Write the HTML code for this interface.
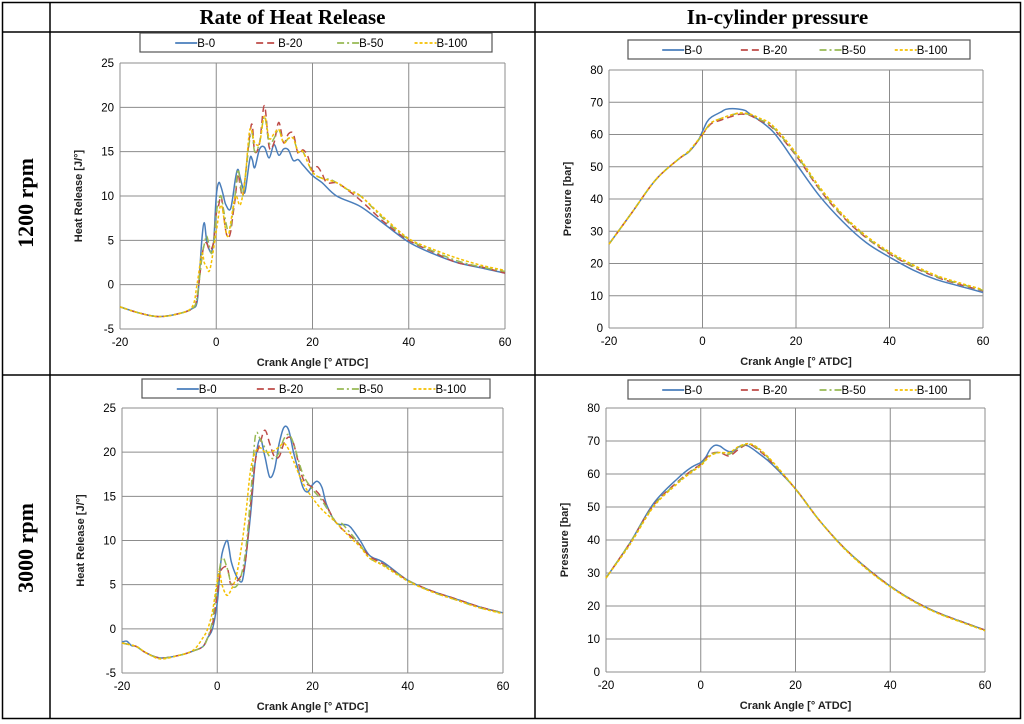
<!DOCTYPE html>
<html><head><meta charset="utf-8">
<style>
body{margin:0;background:#fff;width:1024px;height:724px;overflow:hidden;position:relative;font-family:"Liberation Sans",sans-serif}
.hd{position:absolute;font-family:"Liberation Serif",serif;font-weight:bold;font-size:21px;text-align:center}
.rl{position:absolute;font-family:"Liberation Serif",serif;font-weight:bold;font-size:22px;transform:rotate(-90deg);white-space:nowrap;text-align:center;width:200px}
svg{position:absolute;left:0;top:0}
</style></head><body>
<svg id="tbl" width="1024" height="724">
<rect x="2.5" y="2.5" width="1018" height="716" fill="none" stroke="#000" stroke-width="1.5"/>
<line x1="50" y1="2" x2="50" y2="719" stroke="#000" stroke-width="1.5"/>
<line x1="535" y1="2" x2="535" y2="719" stroke="#000" stroke-width="1.5"/>
<line x1="2" y1="32" x2="1020" y2="32" stroke="#000" stroke-width="1.5"/>
<line x1="2" y1="375" x2="1020" y2="375" stroke="#000" stroke-width="1.5"/>
</svg>
<div class="hd" style="left:50px;top:5px;width:485px">Rate of Heat Release</div>
<div class="hd" style="left:535px;top:5px;width:485px">In-cylinder pressure</div>
<div class="rl" style="left:-74px;top:190px">1200 rpm</div>
<div class="rl" style="left:-74px;top:535px">3000 rpm</div>
<svg id="charts" width="1024" height="724"></svg>
<script>
// ---- 1200 rpm heat release ----
const h12_b0_x=[-20,-16,-12,-8,-5,-4,-3.5,-3,-2.5,-2,-1.5,-1,-0.5,0,0.5,1,1.5,2,3,4,4.5,5,5.5,6,7,7.5,8,9,10,11,12,13,14,15,16,17,18,20,22,25,30,35,40,45,50,55,60];
const h12_b0_y=[-2.5,-3.2,-3.6,-3.3,-2.7,-2,1,5,7,5,4,3.7,5,10,11.5,11,10,9,8.6,12,13,12,11,10.5,14.2,14.1,13.2,15.3,15.5,14.3,15.8,14.6,15.3,15.2,14,14.1,13.5,12.3,11.5,10,8.8,6.8,4.8,3.5,2.5,1.9,1.3];
const h12_b20_x=[-20,-16,-12,-8,-5,-4,-3,-2.5,-2,-1.5,-1,-0.5,0,0.5,1,1.5,2,2.5,3,3.5,4,4.5,5,5.5,6,7,7.5,8,9,10,11,12,13,14,15,16,17,18,19,20,21,22,23,25,27,30,35,40,45,50,55,60];
const h12_b20_y=[-2.5,-3.2,-3.6,-3.3,-2.7,-1.5,3,4.5,4.7,4,4,5,8,9,10,8,6,5.3,6,8,10,12.5,11,10,12,17,18,15,16,20.2,15.5,16,18.3,16,17,17,14.8,15.2,14.5,12.8,13.3,12.5,11.5,11.5,10.8,9.5,7,5,3.7,2.5,2,1.3];
const h12_b50_x=[-20,-16,-12,-8,-5,-4,-3,-2.5,-2,-1.5,-1,-0.5,0,0.5,1,1.5,2,2.5,3,3.5,4,4.5,5,5.5,6,7,7.5,8,9,10,11,12,13,14,15,16,17,18,20,22,24,27,30,35,40,45,50,55,60];
const h12_b50_y=[-2.5,-3.2,-3.6,-3.3,-2.7,-1.5,3,4.5,5.5,4.5,3.5,4.5,8,9.5,10,8.5,7,6,6.5,8.5,10.5,13,11.5,10,12,16.5,17,15,16,19,16,16.5,17.5,16,16.5,16.5,15,15,12.7,12,11.8,10.8,10,7.3,5.1,3.8,2.7,2,1.5];
const h12_b100_x=[-20,-16,-12,-8,-5,-4,-3,-2.5,-2,-1.5,-1,0,1,2,2.5,3,4,5,6,7,8,9,10,11,12,13,14,15,16,17,18,20,22,25,28,30,35,40,45,50,55,60];
const h12_b100_y=[-2.5,-3.2,-3.6,-3.3,-2.5,0,3.5,2.5,2,1.5,2.5,6,9,6,5.5,7,10,9,12,17.5,16,16,19,16.5,17,17.5,16,16.5,16.5,15,15,12.7,12,11.5,10.5,10,7.5,5.2,4,3,2.2,1.6];
// ---- 3000 rpm heat release ----
const h30_b0_x=[-20,-19,-18,-17,-15,-12,-8,-5,-3,-2,-1,0,0.5,1,2,2.5,3,4,5,5.5,6,7,8,9,10,11,12,13,14,15,16,17,18,19,20,21,22,23,25,27,28,30,32,35,40,45,50,55,60];
const h30_b0_y=[-1.5,-1.4,-1.9,-2,-2.7,-3.3,-3,-2.5,-2,-1,0,3,6,8.5,10,9,7.5,6,5.3,6,8,13,19,21.5,19.5,17.2,18,21,22.8,22.5,20,18,16,15.5,16.3,16.7,16,14,12,11.8,11.5,10,8.3,7.5,5.5,4.3,3.4,2.5,1.8];
const h30_b20_x=[-20,-17,-15,-12,-8,-5,-3,-2,-1,0,0.5,1,2,2.5,3,5,6,7,8,9,10,11,12,13,14,15,16,18,20,22,25,28,30,32,35,40,45,50,55,60];
const h30_b20_y=[-1.6,-2,-2.7,-3.3,-3,-2.5,-2,-1,0.5,4,6,6.8,7,6,5,6,8,14,19,21,22.5,21,19.5,19.5,21,21.7,21,17,16,14.8,12,10.5,9.5,8.2,7.3,5.5,4.3,3.4,2.5,1.8];
const h30_b50_x=[-20,-17,-15,-12,-8,-5,-3,-2,-1,0,1,2,3,4,5,6,7,8,9,10,11,12,13,14,15,16,18,20,22,25,26,28,30,32,35,40,45,50,55,60];
const h30_b50_y=[-1.6,-2,-2.7,-3.3,-3,-2.5,-2,-1,1,5,8,7,5,4.8,6,9,15,21.8,21.5,20.5,19.5,19.3,20,21.5,22,21,17.5,15.8,14.5,12,12,10.8,9.5,8,7.2,5.5,4.2,3.3,2.4,1.8];
const h30_b100_x=[-20,-17,-15,-12,-8,-5,-3,-2,-1,0,0.5,1,2,3,4,5,6,7,8,9,10,11,12,13,14,15,16,18,20,22,25,28,30,32,35,40,45,50,55,60];
const h30_b100_y=[-1.6,-2,-2.7,-3.4,-3,-2.4,-1,0,2,5.5,6.5,5,3.8,4.5,6,9,13,18,20,20.5,20,20,20.2,20.6,21,20.3,19,16.5,14.8,13.5,12,10.3,9.3,8,7.1,5.4,4.2,3.3,2.4,1.7];
// ---- 1200 rpm pressure ----
const p12_b0_x=[-20,-15,-10,-5,-3,-1,0,1,2,4,5,7,9,10,15,20,25,30,35,40,45,50,55,60];
const p12_b0_y=[26,36,46,52.5,54.5,58,61,64,65.5,67,67.8,68,67.5,66.5,61,51,41,33,26.5,22,18,15,13,11];
const p12_b20_x=[-20,-15,-10,-5,-3,-1,0,1,2,4,6,8,10,12,15,20,25,30,35,40,45,50,55,60];
const p12_b20_y=[26,36,46,52.5,54.5,58,60,62,63.5,64.5,65.5,66.3,66,64.5,62,53.5,43,34.5,28,23,19,15.8,13.5,11.5];
const p12_b50_x=[-20,-15,-10,-5,-3,-1,0,1,2,4,6,8,10,12,15,20,25,30,35,40,45,50,55,60];
const p12_b50_y=[26,36,46,52.5,54.5,58,60,62.2,63.8,65,66,66.5,66.2,64.8,62.3,53.8,43.3,34.8,28.2,23.2,19.2,16,13.7,11.7];
const p12_b100_x=[-20,-15,-10,-5,-3,-1,0,1,2,4,6,8,10,12,15,20,25,30,35,40,45,50,55,60];
const p12_b100_y=[26,36,46,52.5,54.8,58.2,60,62.2,63.8,65,66,66.7,66.4,65.2,62.8,54.3,43.8,35.2,28.6,23.6,19.6,16.3,14,11.9];
// ---- 3000 rpm pressure ----
const p30_b0_x=[-20,-15,-10,-5,-2,0,1,2,3,4,5,6,7,8,9,10,12,15,20,25,30,35,40,45,50,55,60];
const p30_b0_y=[28.5,39,51,58.5,62,63.5,65,67.5,68.7,68.5,67.5,66.8,67,68.2,68.7,68.5,66.5,63,55.5,46,38,31.5,26,21.5,18,15.3,12.7];
const p30_b20_x=[-20,-15,-10,-5,-2,0,2,4,6,8,10,12,15,20,25,30,35,40,45,50,55,60];
const p30_b20_y=[28.5,39,50.5,57.5,61,63,66,66.5,65.5,67.5,69,67.5,63.5,55.5,46,38,31.5,26,21.5,18,15.3,12.7];
const p30_b50_x=[-20,-15,-10,-5,-2,0,2,4,6,8,10,12,15,20,25,30,35,40,45,50,55,60];
const p30_b50_y=[28.5,39,50.3,57.3,60.8,62.8,65.8,66.5,66,68,69,67.8,63.7,55.4,46,38,31.4,25.9,21.4,17.9,15.2,12.6];
const p30_b100_x=[-20,-15,-10,-5,-2,0,2,4,6,8,10,12,15,20,25,30,35,40,45,50,55,60];
const p30_b100_y=[28.5,38.5,50,57,60.5,62.5,65.5,66.5,66.5,68.3,69.2,68,64,55.5,46,37.8,31.2,25.8,21.3,17.8,15.1,12.5];

const xTicks=[-20,0,20,40,60];
const hrrTicks=[-5,0,5,10,15,20,25];
const presTicks=[0,10,20,30,40,50,60,70,80];
const seriesNames=['B-0','B-20','B-50','B-100'];
const colors=['#4a7ebb','#be4b48','#98b954','#f5c000'];
const dashes=['','7,4','7,3,2,3','3,2'];

const NS='http://www.w3.org/2000/svg';
const root=document.getElementById('charts');
function mk(tag,attrs,parent){const e=document.createElementNS(NS,tag);for(const k in attrs)e.setAttribute(k,attrs[k]);(parent||root).appendChild(e);return e;}
function smooth(pts){let d='M'+pts[0][0].toFixed(1)+','+pts[0][1].toFixed(1);
 for(let i=0;i<pts.length-1;i++){const p0=pts[Math.max(0,i-1)],p1=pts[i],p2=pts[i+1],p3=pts[Math.min(pts.length-1,i+2)];
  const c1=[p1[0]+(p2[0]-p0[0])/6,p1[1]+(p2[1]-p0[1])/6],c2=[p2[0]-(p3[0]-p1[0])/6,p2[1]-(p3[1]-p1[1])/6];
  d+='C'+c1[0].toFixed(1)+','+c1[1].toFixed(1)+' '+c2[0].toFixed(1)+','+c2[1].toFixed(1)+' '+p2[0].toFixed(1)+','+p2[1].toFixed(1);}
 return d;}
function chart(id,L,R,T,B,yTicks,ytitle,xs,ys,leg){
 const g=mk('g',{});
 
 
 const x0=xTicks[0],x1=xTicks[xTicks.length-1],y0=yTicks[0],y1=yTicks[yTicks.length-1];
 const sx=v=>L+(v-x0)/(x1-x0)*(R-L), sy=v=>B-(v-y0)/(y1-y0)*(B-T);
 yTicks.forEach(t=>{const y=sy(t);
  const ln=mk('line',{x1:L,x2:R,y1:y,y2:y,stroke:'#8c8c8c','stroke-width':1},g);
  
  
  const tx=mk('text',{x:L-6,y:y+4,'text-anchor':'end','font-size':11.5,'font-family':'Liberation Sans, sans-serif',fill:'#000'},g);
  tx.textContent=t;
  
  });
 xTicks.forEach(t=>{const x=sx(t);
  const ln=mk('line',{x1:x,x2:x,y1:T,y2:B,stroke:'#8c8c8c','stroke-width':1},g);
  
  
  const tx=mk('text',{x:x,y:B+17,'text-anchor':'middle','font-size':11.5,'font-family':'Liberation Sans, sans-serif',fill:'#000'},g);
  tx.textContent=t;
  
  });
 const xt=mk('text',{x:(L+R)/2,y:B+37,'text-anchor':'middle','font-size':11,'font-weight':'bold','font-family':'Liberation Sans, sans-serif',fill:'#222'},g);
 xt.textContent='Crank Angle [° ATDC]';
 
 
 const yc=(T+B)/2;
 const yt=mk('text',{x:L-38,y:yc,'text-anchor':'middle','font-size':11,'font-weight':'bold','font-family':'Liberation Sans, sans-serif',fill:'#222',transform:'rotate(-90 '+(L-38)+' '+yc+')'},g);
 yt.textContent=ytitle;
 
 
 for(let s=0;s<4;s++){
  const pts=xs[s].map((v,i)=>[sx(v),sy(ys[s][i])]);
  const p=mk('path',{d:smooth(pts),fill:'none',stroke:colors[s],'stroke-width':1.5,'stroke-dasharray':dashes[s]},g);
  
  
 }
 const lb=mk('rect',{x:leg[0],y:leg[1],width:leg[2]-leg[0],height:19,fill:'#fff',stroke:'#555','stroke-width':1.2},g);
 
 
 const w=(leg[2]-leg[0]);
 const offs=[0.1,0.33,0.56,0.78];
 for(let s=0;s<4;s++){const lx=leg[0]+w*offs[s],ly=leg[1]+10;
  const l=mk('line',{x1:lx,x2:lx+22,y1:ly,y2:ly,stroke:colors[s],'stroke-width':1.8,'stroke-dasharray':dashes[s]},g);
  
  
  const t=mk('text',{x:lx+22,y:ly+4,'font-size':11.5,'font-family':'Liberation Sans, sans-serif',fill:'#000'},g);
  t.textContent=seriesNames[s];
  
  }
}
chart('chart-hrr-1200',120,505,63,329,hrrTicks,'Heat Release [J/°]',[h12_b0_x,h12_b20_x,h12_b50_x,h12_b100_x],[h12_b0_y,h12_b20_y,h12_b50_y,h12_b100_y],[140,33,492]);
chart('chart-hrr-3000',122,503,408,673,hrrTicks,'Heat Release [J/°]',[h30_b0_x,h30_b20_x,h30_b50_x,h30_b100_x],[h30_b0_y,h30_b20_y,h30_b50_y,h30_b100_y],[142,379,490]);
chart('chart-pressure-1200',609,983,70,328,presTicks,'Pressure [bar]',[p12_b0_x,p12_b20_x,p12_b50_x,p12_b100_x],[p12_b0_y,p12_b20_y,p12_b50_y,p12_b100_y],[628,40,970]);
chart('chart-pressure-3000',606,985,408,672,presTicks,'Pressure [bar]',[p30_b0_x,p30_b20_x,p30_b50_x,p30_b100_x],[p30_b0_y,p30_b20_y,p30_b50_y,p30_b100_y],[628,380,970]);
</script>
</body></html>
